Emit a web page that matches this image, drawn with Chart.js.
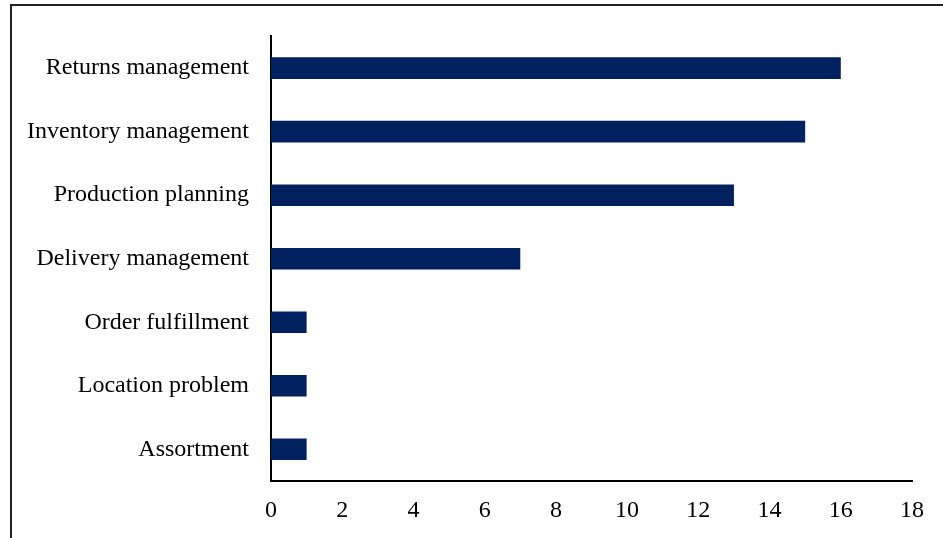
<!DOCTYPE html>
<html>
<head>
<meta charset="utf-8">
<script src="https://cdn.jsdelivr.net/npm/chart.js@4/dist/chart.umd.min.js"></script>
<style>
  html, body { margin: 0; padding: 0; background: #fff; }
  #wrap { width: 943px; height: 538px; }
</style>
</head>
<body>
<div id="wrap"><canvas id="chart" width="943" height="538"></canvas></div>
<script>
// categories listed top to bottom
const categories = [
  'Returns management',
  'Inventory management',
  'Production planning',
  'Delivery management',
  'Order fulfillment',
  'Location problem',
  'Assortment'
]
const counts = [16, 15, 13, 7, 1, 1, 1]
const xTicks = [0, 2, 4, 6, 8, 10, 12, 14, 16, 18]

const barColor = '#00205f'
const serif = '"Liberation Serif", "Times New Roman", serif'

// outer frame, cut off on the right and bottom
const framePlugin = {
  id: 'frame',
  beforeDraw(chart) {
    const c = chart.ctx
    c.save()
    c.strokeStyle = '#222'
    c.lineWidth = 2
    c.beginPath()
    c.moveTo(11, chart.height)
    c.lineTo(11, 5)
    c.lineTo(chart.width, 5)
    c.stroke()
    c.restore()
  }
}

new Chart(document.getElementById('chart'), {
  type: 'bar',
  data: {
    labels: categories,
    datasets: [{
      data: counts,
      backgroundColor: barColor,
      borderWidth: 0,
      barPercentage: 0.34,
      categoryPercentage: 1
    }]
  },
  options: {
    indexAxis: 'y',
    responsive: false,
    animation: false,
    layout: { padding: { left: 0, top: 35, right: 31, bottom: 0 } },
    plugins: { legend: { display: false }, tooltip: { enabled: false } },
    scales: {
      x: {
        min: 0,
        max: 18,
        afterBuildTicks(scale) { scale.ticks = xTicks.map(v => ({ value: v })) },
        afterFit(scale) { scale.height = 57 },
        grid: { display: false, drawTicks: false },
        border: { display: true, color: '#000', width: 2 },
        ticks: { color: '#000', padding: 15, font: { family: serif, size: 24 } }
      },
      y: {
        afterFit(scale) { scale.width = 271 },
        grid: { display: false, drawTicks: false },
        border: { display: true, color: '#000', width: 2 },
        ticks: { color: '#000', padding: 22, font: { family: serif, size: 24 } }
      }
    }
  },
  plugins: [framePlugin]
})
</script>
</body>
</html>
